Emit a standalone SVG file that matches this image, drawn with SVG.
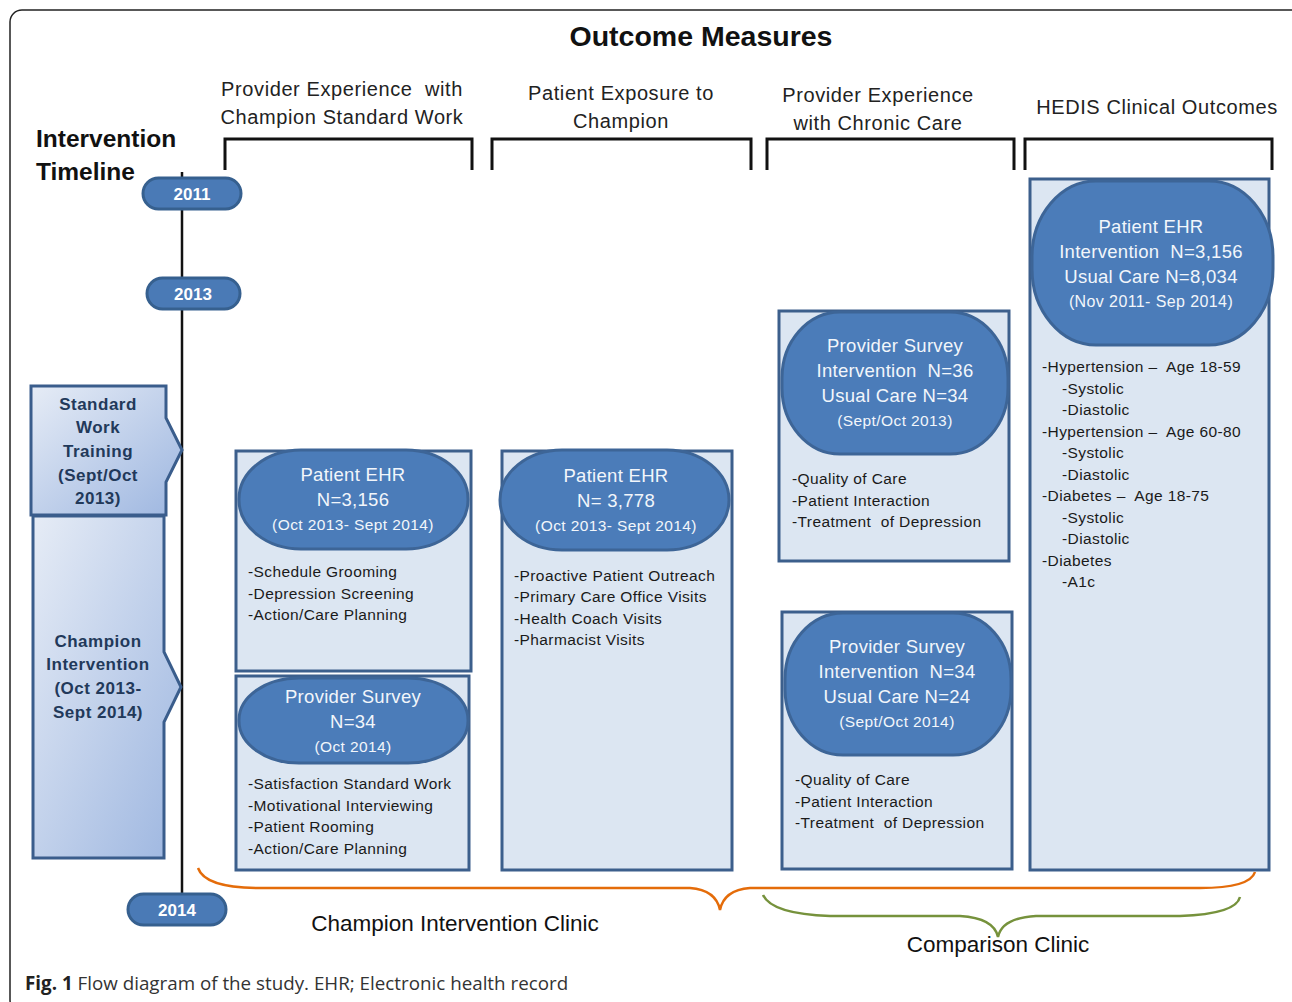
<svg xmlns="http://www.w3.org/2000/svg" width="1292" height="1002" viewBox="0 0 1292 1002">
  <defs>
    <linearGradient id="phaseFill" x1="0" y1="0" x2="1" y2="1">
      <stop offset="0" stop-color="#e6ecf6"/>
      <stop offset="1" stop-color="#9db6e0"/>
    </linearGradient>
    <style>
      text { white-space: pre; }
      .frame { fill: #ffffff; stroke: #222; stroke-width: 1.5; }
      .title { font-family: "Liberation Sans", Arial, sans-serif; font-weight: bold; font-size: 28.5px; fill: #111; text-anchor: middle; }
      .head { font-family: "Liberation Sans", Arial, sans-serif; font-size: 20px; letter-spacing: 0.6px; fill: #222; text-anchor: middle; }
      .tl { font-family: "Liberation Sans", Arial, sans-serif; font-weight: bold; font-size: 24.5px; fill: #111; }
      .bracket { fill: none; stroke: #111; stroke-width: 3; }
      .axis { stroke: #111; stroke-width: 2.5; }
      .year { fill: #4a7ab6; stroke: #36608f; stroke-width: 3; }
      .yeart { font-family: "Liberation Sans", Arial, sans-serif; font-weight: bold; font-size: 17px; fill: #fff; text-anchor: middle; }
      .phase { fill: url(#phaseFill); stroke: #3a5d8c; stroke-width: 3; }
      .phaset { font-family: "Liberation Sans", Arial, sans-serif; font-weight: bold; font-size: 17px; letter-spacing: 0.5px; fill: #22395a; text-anchor: middle; }
      .panel { fill: #dce6f2; stroke: #3c5f8c; stroke-width: 3; }
      .pill { fill: #4b7cb9; stroke: #3d6597; stroke-width: 3; }
      .pt { font-family: "Liberation Sans", Arial, sans-serif; font-size: 18.5px; letter-spacing: 0.3px; fill: #f2f6fb; text-anchor: middle; }
      .ps { font-family: "Liberation Sans", Arial, sans-serif; font-size: 15.5px; letter-spacing: 0.4px; fill: #f2f6fb; text-anchor: middle; }
      .li { font-family: "Liberation Sans", Arial, sans-serif; font-size: 15.5px; letter-spacing: 0.4px; fill: #1a1a1a; }
      .brace { fill: none; stroke-width: 2.5; }
      .clinic { font-family: "Liberation Sans", Arial, sans-serif; font-size: 22.5px; fill: #111; text-anchor: middle; }
      .cap { font-family: "Open Sans", "Liberation Sans", Arial, sans-serif; font-size: 18.8px; fill: #333; }
    </style>
  </defs>

  <!-- outer frame -->
  <rect class="frame" x="10" y="10" width="1295" height="1002" rx="12"/>

  <!-- headings -->
  <text class="title" x="701" y="46">Outcome Measures</text>
  <text class="head" x="342" y="96">Provider Experience  with</text>
  <text class="head" x="342" y="124">Champion Standard Work</text>
  <text class="head" x="621" y="100">Patient Exposure to</text>
  <text class="head" x="621" y="128">Champion</text>
  <text class="head" x="878" y="102">Provider Experience</text>
  <text class="head" x="878" y="130">with Chronic Care</text>
  <text class="head" x="1157" y="114">HEDIS Clinical Outcomes</text>
  <text class="tl" x="36" y="147">Intervention</text>
  <text class="tl" x="36" y="180">Timeline</text>

  <!-- column brackets -->
  <g id="brackets">
    <polyline class="bracket" points="225,170 225,139 472,139 472,170"/>
    <polyline class="bracket" points="492,170 492,139 751,139 751,170"/>
    <polyline class="bracket" points="767,170 767,139 1014,139 1014,170"/>
    <polyline class="bracket" points="1025,170 1025,139 1272,139 1272,170"/>
  </g>

  <!-- timeline -->
  <g id="timeline">
    <line class="axis" x1="182" y1="172" x2="182" y2="896"/>
  </g>
  <g id="y2011">
    <rect class="year" x="143" y="178" width="98" height="31" rx="15.5"/>
    <text class="yeart" x="192" y="200">2011</text>
  </g>
  <g id="y2013">
    <rect class="year" x="147" y="278" width="93" height="31" rx="15.5"/>
    <text class="yeart" x="193" y="300">2013</text>
  </g>
  <g id="y2014">
    <rect class="year" x="128" y="894" width="98" height="31" rx="15.5"/>
    <text class="yeart" x="177" y="916">2014</text>
  </g>

  <!-- intervention phases -->
  <g id="phase-training">
    <polygon class="phase" points="31,386 166,386 166,418 182,450 166,482 166,515 31,515"/>
    <text class="phaset" x="98" y="410">Standard</text>
    <text class="phaset" x="98" y="433">Work</text>
    <text class="phaset" x="98" y="457">Training</text>
    <text class="phaset" x="98" y="481">(Sept/Oct</text>
    <text class="phaset" x="98" y="504">2013)</text>
  </g>
  <g id="phase-champion">
    <polygon class="phase" points="33,516 164,516 164,652 181,687 164,722 164,858 33,858"/>
    <text class="phaset" x="98" y="647">Champion</text>
    <text class="phaset" x="98" y="670">Intervention</text>
    <text class="phaset" x="98" y="694">(Oct 2013-</text>
    <text class="phaset" x="98" y="718">Sept 2014)</text>
  </g>

  <!-- Provider Experience with Champion Standard Work -->
  <g id="ehr-champion">
    <rect class="panel" x="236" y="451" width="235" height="220"/>
    <rect class="pill" x="239" y="450" width="229" height="99" rx="62" ry="49"/>
    <text class="pt" x="353" y="481">Patient EHR</text>
    <text class="pt" x="353" y="506">N=3,156</text>
    <text class="ps" x="353" y="530">(Oct 2013- Sept 2014)</text>
    <text class="li" x="248" y="577">-Schedule Grooming</text>
    <text class="li" x="248" y="599">-Depression Screening</text>
    <text class="li" x="248" y="620">-Action/Care Planning</text>
  </g>
  <g id="survey-champion">
    <rect class="panel" x="236" y="676" width="233" height="194"/>
    <rect class="pill" x="239" y="678" width="229" height="85" rx="60" ry="42"/>
    <text class="pt" x="353" y="703">Provider Survey</text>
    <text class="pt" x="353" y="728">N=34</text>
    <text class="ps" x="353" y="752">(Oct 2014)</text>
    <text class="li" x="248" y="789">-Satisfaction Standard Work</text>
    <text class="li" x="248" y="811">-Motivational Interviewing</text>
    <text class="li" x="248" y="832">-Patient Rooming</text>
    <text class="li" x="248" y="854">-Action/Care Planning</text>
  </g>

  <!-- Patient Exposure to Champion -->
  <g id="ehr-exposure">
    <rect class="panel" x="502" y="451" width="230" height="419"/>
    <rect class="pill" x="500" y="450" width="229" height="100" rx="62" ry="50"/>
    <text class="pt" x="616" y="482">Patient EHR</text>
    <text class="pt" x="616" y="507">N= 3,778</text>
    <text class="ps" x="616" y="531">(Oct 2013- Sept 2014)</text>
    <text class="li" x="514" y="581">-Proactive Patient Outreach</text>
    <text class="li" x="514" y="602">-Primary Care Office Visits</text>
    <text class="li" x="514" y="624">-Health Coach Visits</text>
    <text class="li" x="514" y="645">-Pharmacist Visits</text>
  </g>

  <!-- Provider Experience with Chronic Care -->
  <g id="survey-2013">
    <rect class="panel" x="779" y="311" width="230" height="250"/>
    <rect class="pill" x="782" y="312" width="226" height="142" rx="58" ry="66"/>
    <text class="pt" x="895" y="352">Provider Survey</text>
    <text class="pt" x="895" y="377">Intervention  N=36</text>
    <text class="pt" x="895" y="402">Usual Care N=34</text>
    <text class="ps" x="895" y="426">(Sept/Oct 2013)</text>
    <text class="li" x="792" y="484">-Quality of Care</text>
    <text class="li" x="792" y="506">-Patient Interaction</text>
    <text class="li" x="792" y="527">-Treatment  of Depression</text>
  </g>
  <g id="survey-2014">
    <rect class="panel" x="782" y="612" width="230" height="257"/>
    <rect class="pill" x="785" y="613" width="226" height="142" rx="58" ry="66"/>
    <text class="pt" x="897" y="653">Provider Survey</text>
    <text class="pt" x="897" y="678">Intervention  N=34</text>
    <text class="pt" x="897" y="703">Usual Care N=24</text>
    <text class="ps" x="897" y="727">(Sept/Oct 2014)</text>
    <text class="li" x="795" y="785">-Quality of Care</text>
    <text class="li" x="795" y="807">-Patient Interaction</text>
    <text class="li" x="795" y="828">-Treatment  of Depression</text>
  </g>

  <!-- HEDIS Clinical Outcomes -->
  <g id="ehr-hedis">
    <rect class="panel" x="1030" y="179" width="239" height="691"/>
    <rect class="pill" x="1032" y="181" width="241" height="164" rx="64" ry="76"/>
    <text class="pt" x="1151" y="233">Patient EHR</text>
    <text class="pt" x="1151" y="258">Intervention  N=3,156</text>
    <text class="pt" x="1151" y="283">Usual Care N=8,034</text>
    <text class="ps" x="1151" y="307" style="font-size:16px">(Nov 2011- Sep 2014)</text>
    <text class="li" x="1042" y="372">-Hypertension –  Age 18-59</text>
    <text class="li" x="1062" y="394">-Systolic</text>
    <text class="li" x="1062" y="415">-Diastolic</text>
    <text class="li" x="1042" y="437">-Hypertension –  Age 60-80</text>
    <text class="li" x="1062" y="458">-Systolic</text>
    <text class="li" x="1062" y="480">-Diastolic</text>
    <text class="li" x="1042" y="501">-Diabetes –  Age 18-75</text>
    <text class="li" x="1062" y="523">-Systolic</text>
    <text class="li" x="1062" y="544">-Diastolic</text>
    <text class="li" x="1042" y="566">-Diabetes</text>
    <text class="li" x="1062" y="587">-A1c</text>
  </g>

  <!-- clinic braces -->
  <g id="connectors">
    <path class="brace" stroke="#e46c0a" d="M198,868 Q205,888 260,888 L690,888 Q716,890 720,910 Q724,890 750,888 L1200,888 Q1250,888 1255,872"/>
    <path class="brace" stroke="#76923c" d="M763,895 Q772,914 830,916 L960,916 Q994,918 998,937 Q1002,918 1036,916 L1180,916 Q1236,914 1240,897"/>
  </g>
  <g id="clinic-labels">
    <text class="clinic" x="455" y="931">Champion Intervention Clinic</text>
    <text class="clinic" x="998" y="952">Comparison Clinic</text>
  </g>

  <!-- caption -->
  <text class="cap" x="25" y="990"><tspan font-weight="bold" fill="#222">Fig. 1</tspan> Flow diagram of the study. EHR; Electronic health record</text>
</svg>
